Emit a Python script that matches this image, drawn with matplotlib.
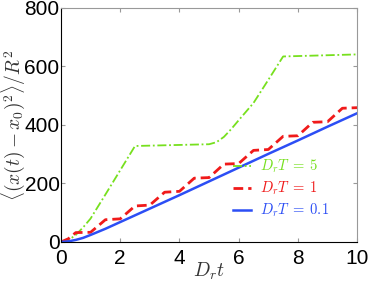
"""
MSD vs D_r t for three switching periods
"""
import matplotlib
matplotlib.use("Agg")
import matplotlib.pyplot as plt

plt.rcParams["mathtext.fontset"] = "cm"
plt.rcParams["font.family"] = ["Liberation Sans", "DejaVu Sans"]

# values
t_green = [0, 0.25, 0.5, 0.75, 1.0, 1.5, 2.0, 2.5, 5.0, 5.25, 5.5, 5.75, 6.0, 6.5, 7.0, 7.5, 10]
msd_green = [0, 6, 24, 50, 80, 162, 245, 328, 334, 341, 359, 386, 416, 475, 554, 634, 641]

t_red = [0, 0.25, 0.5, 1.0, 1.5, 2.0, 2.5, 3.0, 3.5, 4.0, 4.5, 5.0,
         5.5, 6.0, 6.5, 7.0, 7.5, 8.0, 8.5, 9.0, 9.5, 10]
msd_red = [0, 11, 32, 33, 76, 79, 123, 126, 170, 173, 218, 220,
           266, 268, 313, 316, 361, 363, 409, 411, 457, 459]

t_blue = [0, 0.25, 0.5, 0.75, 1.0, 1.5, 2, 3, 4, 5, 6, 7, 8, 9, 10]
msd_blue = [0, 2, 7, 14, 24, 45, 68, 114, 160, 207, 254, 301, 347, 394, 440]

labels = [r"$D_rT\;=\;5$", r"$D_rT\;=\;1$", r"$D_rT\;=\;0.1$"]
colors = ["#77e01e", "#f01a1a", "#2c4ef5"]

fig = plt.figure(figsize=(3.74, 2.82), dpi=100)
ax = fig.add_axes([0.163, 0.142, 0.792, 0.830])

ax.plot(t_green, msd_green, color=colors[0], lw=1.3, ls=(0, (5, 1.5, 1, 1.5)), label=labels[0])
ax.plot(t_red, msd_red, color=colors[1], lw=2.0, ls=(0, (3.5, 1.8)), label=labels[1])
ax.plot(t_blue, msd_blue, color=colors[2], lw=1.8, label=labels[2])

ax.set_xlim(0, 10)
ax.set_ylim(0, 800)
ax.set_xticks([0, 2, 4, 6, 8, 10])
ax.set_yticks([0, 200, 400, 600, 800])
ax.tick_params(direction="in", length=3, color="#999999", labelsize=15, pad=1,
               top=True, right=True)
ax.tick_params(axis="x", pad=5)
for side in ["top", "right"]:
    ax.spines[side].set_color("#999999")
for side in ["left", "bottom"]:
    ax.spines[side].set_color("black")

ax.set_xlabel(r"$D_rt$", fontsize=14, labelpad=-5, color="#333333")
ax.set_ylabel(r"$\langle(x(t)-x_0)^2\rangle/R^2$", fontsize=14, labelpad=-2, color="#333333")

leg = ax.legend(loc="lower right", bbox_to_anchor=(0.935, 0.06), frameon=False,
                fontsize=10.5, handlelength=1.25, handletextpad=0.6,
                labelspacing=0.3, borderpad=0.1)
for txt, c in zip(leg.get_texts(), colors):
    txt.set_color(c)

fig.savefig("out.png", dpi=100)
